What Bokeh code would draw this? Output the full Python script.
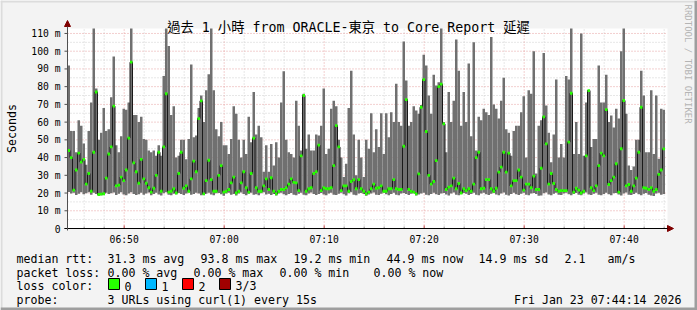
from math import pi
from bokeh.plotting import figure
from bokeh.models import Range1d, Label, BoxAnnotation, Arrow, NormalHead
from bokeh.core.properties import value
from bokeh.embed import file_html
from bokeh.resources import INLINE

# ---------------- data ----------------
START_SEC = 6 * 3600 + 44 * 60 + 20      # 06:44:20
STEP_SEC = 15
END_SEC = START_SEC + 3600
Y_MAX = 112.8

# smoke top (slowest of 3 probes), ms
smoke_top_ms = [
    92, 55, 55, 43, 61, 58, 48, 36, 55, 71,
    120, 79, 50, 54, 68, 55, 56, 74, 97, 47,
    43, 52, 67.5, 67, 71, 120, 64, 64, 60, 63,
    50.5, 50, 44, 43, 44, 41, 47, 41, 86, 120,
    103, 64, 69, 40, 41, 50, 50, 39, 50.5, 92.5,
    51.5, 52.5, 68, 75, 60, 78, 87, 120, 78, 56,
    52, 60, 47, 47, 42, 50.5, 69, 64.7, 50, 40,
    50, 42, 63, 48.7, 77, 53, 58, 51.5, 32, 47,
    32, 47.7, 35.5, 48.7, 40, 71, 88.7, 50, 43, 42,
    40, 72, 58, 44, 76, 45, 53, 44, 44, 53,
    52.5, 58, 79, 42, 45, 67.5, 72, 69, 50, 40,
    29, 36.5, 68, 89, 53, 30, 50, 40, 29, 50,
    45, 65, 43, 56, 46, 65, 42, 65, 51.5, 65.6,
    60, 81.6, 60, 58, 105.5, 83.5, 58, 60, 69, 66.5,
    64.7, 69.7, 98, 92, 75, 64.7, 86.7, 80.6, 82.5, 120,
    60, 43, 77, 60, 72, 106.6, 89, 58, 77, 60,
    93, 52, 105, 44, 63, 61, 67.5, 65.6, 64, 108,
    70, 67.5, 62, 72, 85, 56, 54, 41, 55, 58,
    58, 65.6, 74.6, 40, 78, 76, 100, 31, 58, 61,
    99, 69.4, 54, 37.4, 53, 84, 40, 47.7, 40, 86,
    84, 120, 42, 60, 42, 110, 41, 71, 78, 46,
    50.5, 50.5, 92, 71, 71, 86.7, 60, 63.7, 57, 67.5,
    62, 100, 120, 64.7, 35.5, 33, 35, 50, 50, 89,
    75, 43, 43, 78, 42, 75, 39.3, 67.5, 67,
]

# smoke bottom (fastest of 3 probes), ms
smoke_bottom_ms = [
    20.6, 19.8, 20.2, 18.9, 19.6, 20.4, 19.3, 19.9, 20.5, 19.1,
    20.1, 19.4, 18.6, 18.8, 19.0, 20.2, 19.5, 19.9, 20.3, 18.9,
    19.6, 20.4, 19.2, 18.7, 19.8, 20.5, 19.4, 18.9, 19.3, 20.2,
    19.0, 19.7, 20.3, 18.8, 19.5, 20.1, 19.2, 18.6, 19.9, 20.4,
    19.1, 18.7, 19.6, 19.3, 20.0, 19.4, 18.9, 19.8, 20.3, 19.0,
    19.5, 20.2, 19.7, 18.8, 18.9, 19.6, 20.1, 19.2, 18.7, 19.9,
    20.0, 19.3, 18.5, 19.7, 20.2, 19.1, 19.4, 18.6, 19.8, 20.3,
    19.5, 18.8, 19.6, 20.1, 19.0, 19.3, 18.7, 19.9, 20.4, 19.2,
    19.6, 18.9, 19.4, 18.6, 19.8, 20.1, 19.3, 18.8, 19.5, 20.0,
    19.1, 18.7, 19.6, 20.2, 19.0, 18.8, 19.7, 20.3, 19.4, 18.9,
    19.5, 20.0, 19.2, 18.7, 19.8, 20.1, 19.0, 18.9, 19.6, 20.2,
    19.3, 18.6, 19.9, 20.4, 19.1, 18.8, 19.7, 20.0, 19.4, 18.5,
    19.2, 19.8, 20.3, 19.0, 18.9, 19.6, 20.1, 19.3, 18.7, 19.5,
    20.2, 19.1, 18.8, 19.7, 20.0, 19.4, 18.9, 19.6, 20.3, 18.6,
    19.2, 19.8, 20.1, 19.0, 18.7, 19.5, 20.2, 19.3, 18.9, 19.7,
    20.0, 19.2, 18.6, 19.8, 20.3, 19.1, 18.8, 19.4, 20.0, 19.6,
    18.9, 19.5, 20.2, 19.0, 18.7, 19.8, 20.1, 19.3, 18.9, 19.6,
    20.0, 19.2, 18.8, 19.7, 20.3, 19.0, 18.6, 19.5, 20.1, 19.3,
    18.9, 19.6, 20.2, 19.1, 18.7, 19.8, 20.0, 19.4, 18.5, 18.6,
    19.9, 20.3, 19.2, 18.8, 19.6, 20.1, 19.0, 18.9, 19.7, 20.2,
    19.3, 18.7, 19.5, 20.0, 19.1, 18.8, 19.8, 20.3, 19.2, 18.9,
    19.6, 20.1, 19.0, 18.7, 19.5, 20.2, 19.3, 18.8, 19.9, 20.0,
    19.2, 18.6, 19.7, 20.3, 19.0, 18.9, 19.5, 20.1, 19.3, 18.8,
    19.6, 20.0, 19.1, 18.6, 18.4, 19.8, 20.2, 19.0, 19.4,
]

# median rtt, ms
median_ms = [
    44, 40, 21.6, 33, 42.5, 37.4, 39, 25, 31, 21,
    43, 77, 19.2, 19.4, 19.6, 28.4, 42, 46, 69, 24,
    24.5, 29, 27, 33, 51, 93.8, 37, 32, 25.5, 39,
    28, 25.5, 23, 20.5, 22.7, 30, 43, 21, 46, 76,
    20.5, 21, 22.4, 20, 31, 43, 22.7, 24, 21, 28,
    38, 32, 62, 72, 19.5, 27, 38.5, 27.6, 21, 21,
    30, 35.5, 20.5, 21, 22, 25.7, 29, 20, 21, 25.7,
    32, 23, 20.5, 31, 51, 23, 21, 21, 24, 28,
    22, 28.6, 21, 19.5, 21, 22, 22, 23, 25, 28,
    26, 25.7, 21.4, 41, 75, 21, 22.4, 23, 31, 32,
    47, 21.4, 23, 22.4, 22.4, 23, 35.5, 58, 46, 21.4,
    24, 24, 21, 26.5, 27.5, 22.4, 27.6, 22.4, 21, 19.5,
    20.5, 22.4, 25, 22.7, 23, 24, 21, 21, 22.4, 22.4,
    27.6, 22.4, 22, 22, 46.4, 72.7, 22, 21, 20.5, 19.5,
    30.8, 68.4, 84, 54.7, 30, 25, 26.5, 38.3, 80, 81.4,
    59, 22, 23.3, 24, 28.4, 22.4, 25.4, 20, 22.4, 21.4,
    22.4, 21, 25, 40, 43, 22.4, 22.7, 27.6, 27.6, 22.4,
    21, 22.7, 31.8, 34.6, 43, 31.8, 42.5, 24, 27, 27,
    33, 29, 21.6, 25, 25, 23, 29.5, 22, 22, 34,
    63, 47.7, 25, 31, 25.4, 22, 21, 21.4, 21.4, 21.4,
    48.7, 76.3, 20.5, 22.7, 21.6, 20, 21, 41, 77.8, 23,
    21.4, 24, 35.5, 42.5, 41, 67, 24.8, 27, 29, 36.5,
    20.5, 45, 72.2, 24, 24.8, 21, 24, 28.4, 43, 68.4,
    23, 22.7, 22, 23, 21, 22, 30.5, 33, 44.9,
]

y_major = [0, 10, 20, 30, 40, 50, 60, 70, 80, 90, 100, 110]
y_minor = [5, 15, 25, 35, 45, 55, 65, 75, 85, 95, 105]
y_labels = ["0", "10 m", "20 m", "30 m", "40 m", "50 m", "60 m",
            "70 m", "80 m", "90 m", "100 m", "110 m"]

x_labels = ["06:50", "07:00", "07:10", "07:20", "07:30", "07:40"]
x_major = [6 * 3600 + 50 * 60, 7 * 3600, 7 * 3600 + 600, 7 * 3600 + 1200,
           7 * 3600 + 1800, 7 * 3600 + 2400]
x_minor = [6 * 3600 + m * 60 for m in (46, 48, 52, 54, 56, 58)] + \
          [7 * 3600 + m * 60 for m in range(2, 46, 2) if m % 10 != 0]

title_text = "過去 1 小時 from ORACLE-東京 to Core Report 延遲"
stats_rtt = ["median rtt:", "31.3 ms avg", "93.8 ms max", "19.2 ms min",
             "44.9 ms now", "14.9 ms sd", "2.1", "am/s"]
stats_loss = ["packet loss:", "0.00 % avg", "0.00 % max", "0.00 % min",
              "0.00 % now"]
loss_names = ["0", "1", "2", "3/3"]
loss_colors = ["#26ff00", "#00b8ff", "#ff0000", "#a00000"]
probe_text = ["probe:", "3 URLs using curl(1) every 15s"]
stamp_text = "Fri Jan 23 07:44:14 2026"

# ---------------- layout / styles ----------------
W, H = 697, 310
PLOT_L, PLOT_R, PLOT_T, PLOT_B = 67, 667, 28, 228      # plot area, canvas px
SEC_PER_PX = (END_SEC - START_SEC) / (PLOT_R - PLOT_L)
MS_PER_PX = Y_MAX / (PLOT_B - PLOT_T)

MONO = "DejaVu Sans Mono"
TITLE_FONT = "'DejaVu Sans Mono', 'Noto Sans CJK TC'"
BG = "#f3f3f3"
SMOKE = "#707070"
MAJOR_GRID = "#e6a0a0"
MINOR_GRID = "#cfcfcf"

n = len(median_ms)
left = [START_SEC + STEP_SEC * i for i in range(n)]
right = [t + STEP_SEC for t in left]
bar_top = [min(v, Y_MAX) for v in smoke_top_ms]   # clipped at the plot top

# the frame covers the whole canvas; the plot area is a sub-rectangle of it
p = figure(width=W, height=H, output_backend="svg", toolbar_location=None,
           x_range=Range1d(START_SEC - PLOT_L * SEC_PER_PX,
                           START_SEC + (W - PLOT_L) * SEC_PER_PX),
           y_range=Range1d(-(H - PLOT_B) * MS_PER_PX, Y_MAX + PLOT_T * MS_PER_PX),
           x_axis_location=None, y_axis_location=None,
           min_border=0)
p.grid.visible = False
p.background_fill_color = BG
p.border_fill_color = BG
p.outline_line_color = None

# plot canvas (white)
p.add_layout(BoxAnnotation(left=START_SEC, right=END_SEC, bottom=0, top=Y_MAX,
                           fill_color="white", fill_alpha=1, line_color=None,
                           level="underlay"))

# grid
p.segment(x0=x_minor, x1=x_minor, y0=[0] * len(x_minor), y1=[Y_MAX] * len(x_minor),
          line_color=MINOR_GRID, line_dash="1 2", line_width=1)
p.segment(x0=[START_SEC] * len(y_minor), x1=[END_SEC] * len(y_minor),
          y0=y_minor, y1=y_minor, line_color=MINOR_GRID, line_dash="1 2", line_width=1)
p.segment(x0=x_major, x1=x_major, y0=[0] * len(x_major), y1=[Y_MAX] * len(x_major),
          line_color=MAJOR_GRID, line_dash="1 2", line_width=1)
p.segment(x0=[START_SEC] * (len(y_major) - 1), x1=[END_SEC] * (len(y_major) - 1),
          y0=y_major[1:], y1=y_major[1:], line_color=MAJOR_GRID, line_dash="1 2",
          line_width=1)

# smoke
p.quad(left=left, right=right, bottom=smoke_bottom_ms, top=bar_top,
       fill_color=SMOKE, line_color=None)

# median line (black step) + green loss markers
p.step(x=left + [right[-1]], y=median_ms + [median_ms[-1]], mode="after",
       line_color="#1a1a1a", line_width=1)
p.quad(left=left, right=right,
       bottom=[m - 0.8 for m in median_ms], top=[m + 0.8 for m in median_ms],
       fill_color=loss_colors[0], line_color=None)

# axis ticks
p.segment(x0=[START_SEC - 3 * SEC_PER_PX] * len(y_major), x1=[START_SEC] * len(y_major),
          y0=y_major, y1=y_major, line_color="#505050", line_width=1)
p.segment(x0=x_minor, x1=x_minor, y0=[0] * len(x_minor),
          y1=[2 * MS_PER_PX] * len(x_minor), line_color="#999999", line_width=1)
p.segment(x0=x_major, x1=x_major, y0=[0] * len(x_major),
          y1=[3 * MS_PER_PX] * len(x_major), line_color="#c04040", line_width=1)

# axis lines with arrows
p.add_layout(Arrow(end=NormalHead(size=6, fill_color="#7f0000", line_color="#7f0000"),
                   x_start=START_SEC - 3 * SEC_PER_PX, y_start=0,
                   x_end=END_SEC + 6 * SEC_PER_PX, y_end=0,
                   line_color="#000000", line_width=1))
p.add_layout(Arrow(end=NormalHead(size=6, fill_color="#7f0000", line_color="#7f0000"),
                   x_start=START_SEC, y_start=-2 * MS_PER_PX,
                   x_end=START_SEC, y_end=Y_MAX + 8 * MS_PER_PX,
                   line_color="#505050", line_width=1))

# tick labels
p.text(x=x_major, y=[0] * len(x_major), text=x_labels, y_offset=10.5,
       text_align="center", text_baseline="middle", text_font=value(MONO),
       text_font_size="9.7px", text_color="#000000")
p.text(x=[START_SEC] * len(y_major), y=y_major, text=y_labels, x_offset=-7,
       text_align="right", text_baseline="middle", text_font=value(MONO),
       text_font_size="9.7px", text_color="#000000")


def lab(x, y, text, size="11.6px", align="left", baseline="alphabetic",
        angle=0.0, color="#000000", font=MONO):
    p.add_layout(Label(x=x, y=y, x_units="canvas", y_units="canvas", text=text,
                       text_font=font, text_font_size=size, text_align=align,
                       text_baseline=baseline, angle=angle, text_color=color))


# title & side texts
lab(348, 26.5, title_text, size="13.3px", align="center", font=TITLE_FONT)
lab(11, 128, "Seconds", align="center", baseline="middle", angle=pi / 2)
lab(687, 4, "RRDTOOL / TOBI OETIKER", size="9px", baseline="middle",
    angle=-pi / 2, color="#b4b4b4")

# legend lines
rtt_x = [16, 107, 200, 293, 386, 478, 564, 607]
for x, t in zip(rtt_x, stats_rtt):
    lab(x, 258.3, t)
loss_x = [16, 107, 193, 279, 373]
for x, t in zip(loss_x, stats_loss):
    lab(x, 272, t)
lab(16, 285.7, "loss color:")
box_x = [108, 145, 182, 219]
for x, c, t in zip(box_x, loss_colors, loss_names):
    p.add_layout(BoxAnnotation(left=x, right=x + 11, top=278, bottom=289,
                               left_units="canvas", right_units="canvas",
                               top_units="canvas", bottom_units="canvas",
                               fill_color=c, fill_alpha=1, line_color="#000000",
                               line_alpha=1, line_width=1))
    lab(x + 16, 285.7, t)
lab(16, 299.3, probe_text[0])
lab(107, 299.3, probe_text[1])
lab(681, 299.3, stamp_text, align="right")

# frame edges of the image
for l, r, t, b, c in [(0, W, 0, 2, "#dcdcdc"), (0, 2, 0, H, "#dcdcdc"),
                      (W - 3, W, 0, H, "#9e9e9e"), (0, W, H - 3, H, "#9e9e9e")]:
    p.add_layout(BoxAnnotation(left=l, right=r, top=t, bottom=b,
                               left_units="canvas", right_units="canvas",
                               top_units="canvas", bottom_units="canvas",
                               fill_color=c, fill_alpha=1, line_color=None))

open("out.html", "w").write(file_html(p, INLINE))
